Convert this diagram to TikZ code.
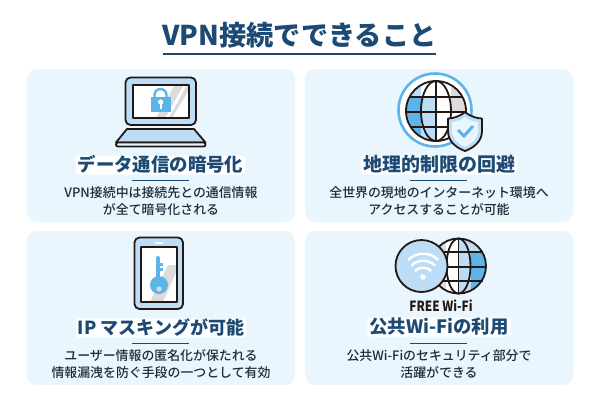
\documentclass[tikz,border=0pt]{standalone}
\usepackage{fontspec}
\setmainfont{Noto Sans CJK JP}
\newfontfamily\medf{Noto Sans CJK JP Medium}
\usetikzlibrary{calc}
\definecolor{navy}{HTML}{1D4A75}
\definecolor{card}{HTML}{E9F6FD}
\definecolor{ink}{HTML}{231815}
\definecolor{sky}{HTML}{5BB5EA}
\definecolor{pale}{HTML}{BCDDF5}
\definecolor{glare}{HTML}{DCDCDC}
\tikzset{
 x=1pt,y=-1pt,
 cardbox/.style={fill=card,draw=none,rounded corners=10pt},
 heading/.style={fill=white,rounded corners=3pt,text=navy,inner xsep=2pt,inner ysep=1.5pt,text height=14.5pt,text depth=1.5pt},
 bodytext/.style={font=\fontsize{12.9}{17.5}\selectfont\medf,text=navy!35!ink,inner sep=0pt,align=center,anchor=center},
 rulebar/.style={draw=navy,line width=1.6pt},
 outl/.style={draw=ink,line width=1.8pt,line join=round},
 thinl/.style={draw=ink,line width=2pt,line join=round},
}
\begin{document}
\begin{tikzpicture}
\useasboundingbox (0,0) rectangle (600,400);
\fill[white] (0,0) rectangle (600,400);
% title
\node[font=\fontsize{27.2}{28}\selectfont\bfseries,text=navy,inner sep=0pt] (title) at (299.5,35) {VPN接続でできること};
\fill[navy] (163,52.5) rectangle (436,55);
% cards
\draw[cardbox] (27,69) rectangle (295,222);
\draw[cardbox] (305,69) rectangle (573,222);
\draw[cardbox] (27,231) rectangle (295,385);
\draw[cardbox] (305,231) rectangle (573,385);
% text
\draw[rulebar] (132,180.5) -- (189,180.5);
\node[heading,font=\fontsize{18.4}{20}\selectfont\bfseries] (h1) at (160.5,165) {データ通信の暗号化};
\node[bodytext] (b1) at (161,201) {VPN接続中は接続先との通信情報\\が全て暗号化される};
\draw[rulebar] (410,180.5) -- (467,180.5);
\node[heading,font=\fontsize{19}{20}\selectfont\bfseries] (h2) at (439,165) {地理的制限の回避};
\node[bodytext] (b2) at (439,201) {全世界の現地のインターネット環境へ\\アクセスすることが可能};
\draw[rulebar] (132,343.5) -- (189,343.5);
\node[heading,font=\fontsize{18}{20}\selectfont\bfseries] (h3) at (161,328) {IP マスキングが可能};
\node[bodytext] (b3) at (161,364) {ユーザー情報の匿名化が保たれる\\情報漏洩を防ぐ手段の一つとして有効};
\draw[rulebar] (410,343.5) -- (467,343.5);
\node[heading,font=\fontsize{18.4}{20}\selectfont\bfseries] (h4) at (439,327) {公共Wi-Fiの利用};
\node[bodytext] (b4) at (439,364) {公共Wi-Fiのセキュリティ部分で\\活躍ができる};
% laptop
\draw[outl,fill=pale,rounded corners=5pt] (125.5,77.5) rectangle (196,125);
\fill[white] (132.5,84.5) rectangle (189,118);
\fill[glare] (175,84.5) -- (184,84.5) -- (165,118) -- (156,118) -- cycle;
\fill[glare] (187,84.5) -- (189,84.5) -- (189,90) -- (172,118) -- (169,118) -- cycle;
\draw[thinl] (132.5,84.5) rectangle (189,118);
\fill[sky] (151,97) rectangle (170.5,112);
\draw[sky,line width=2.4pt] (154.5,97.5) -- (154.5,95) arc (180:360:6 and 6) -- (166.5,97.5);
\fill[white] (160.7,102) circle (2.6);
\fill[white] (159.5,103) rectangle (161.9,108.5);
\draw[outl,fill=pale] (127,129) -- (194,129) -- (205.5,142.5) -- (116,142.5) -- cycle;
\draw[outl,fill=card,rounded corners=2pt] (116,142.5) -- (205.5,142.5) -- (205.5,146.5) -- (116,146.5) -- cycle;
% globe 2
\fill[white] (435,110) circle (36.5);
\draw[sky,line width=2.6pt] (435,110) circle (36.5);
\begin{scope}
\clip (436,111) circle (30);
\fill[white] (406,81) rectangle (466,141);
\fill[sky] (406,97) rectangle (421,141);
\fill[pale] (406,81) rectangle (421,97);
\fill[pale] (421,97) rectangle (436,141);
\fill[glare] (451,81) rectangle (466,112);
\end{scope}
\draw[outl] (436,111) circle (30);
\draw[outl] (436,111) ellipse (15 and 30);
\draw[outl] (436,81) -- (436,141) (410,97) -- (462,97) (406,112) -- (466,112) (410,127) -- (462,127);
% shield
\draw[outl,fill=pale] (465,112) .. controls (471,117) and (478,118.5) .. (482,118.5) -- (482,131) .. controls (482,142) and (473,148) .. (465,151) .. controls (457,148) and (448,142) .. (448,131) -- (448,118.5) .. controls (452,118.5) and (459,117) .. (465,112) -- cycle;
\fill[card] (465,117) .. controls (469,120) and (474,122) .. (478,122) -- (478,131) .. controls (478,139) and (471,144) .. (465,147) .. controls (459,144) and (452,139) .. (452,131) -- (452,122) .. controls (456,122) and (461,120) .. (465,117) -- cycle;
\draw[sky,line width=3pt] (458,130) -- (464,136) -- (473,126);
% phone
\draw[outl,fill=pale,rounded corners=5pt] (134.5,237.5) rectangle (183,309);
\fill[white] (141,247) rectangle (177,302);
\fill[glare] (168,265) -- (177,265) -- (177,270) -- (163,302) -- (150,302) -- cycle;
\draw[thinl] (141,247) rectangle (177,302);
\draw[white,line width=2pt,line cap=round] (156,242.5) -- (162.5,242.5);
\fill[sky] (156,258) rectangle (160,280);
\fill[sky] (158,258) circle (2);
\fill[sky] (158,263) rectangle (163,265.5);
\fill[sky] (158,268) rectangle (163,271);
\fill[sky] (159,285) circle (9);
\fill[glare] (159,289) circle (2.6);
% wifi globe
\begin{scope}
\clip (458.5,266) circle (27.5);
\fill[white] (431,238) rectangle (486,294);
\fill[glare] (431,238) rectangle (446,252);
\fill[glare] (431,281) rectangle (446,294);
\fill[pale] (458.5,238) rectangle (470.5,294);
\fill[sky] (470.5,252) rectangle (486,294);
\fill[pale] (470.5,238) rectangle (486,252);
\end{scope}
\draw[outl] (458.5,266) circle (27.5);
\draw[outl] (458.5,266) ellipse (12 and 27.5);
\draw[outl] (458.5,238.5) -- (458.5,293.5) (434,252) -- (483,252) (431,267) -- (486,267) (434,281) -- (483,281);
\draw[outl,fill=pale] (421.5,266) circle (26);
\fill[white] (423,277) circle (2.8);
\draw[white,line width=2.4pt] (415,271) arc (225:315:11.5);
\draw[white,line width=2.4pt] (411.5,265.5) arc (225:315:16.5);
\draw[white,line width=2.4pt] (408,260) arc (225:315:21.5);
\node[font=\fontsize{14}{14}\selectfont\bfseries,text=ink,inner sep=0pt,xscale=.84] (free) at (441,306) {FREE Wi-Fi};
\end{tikzpicture}
\end{document}
